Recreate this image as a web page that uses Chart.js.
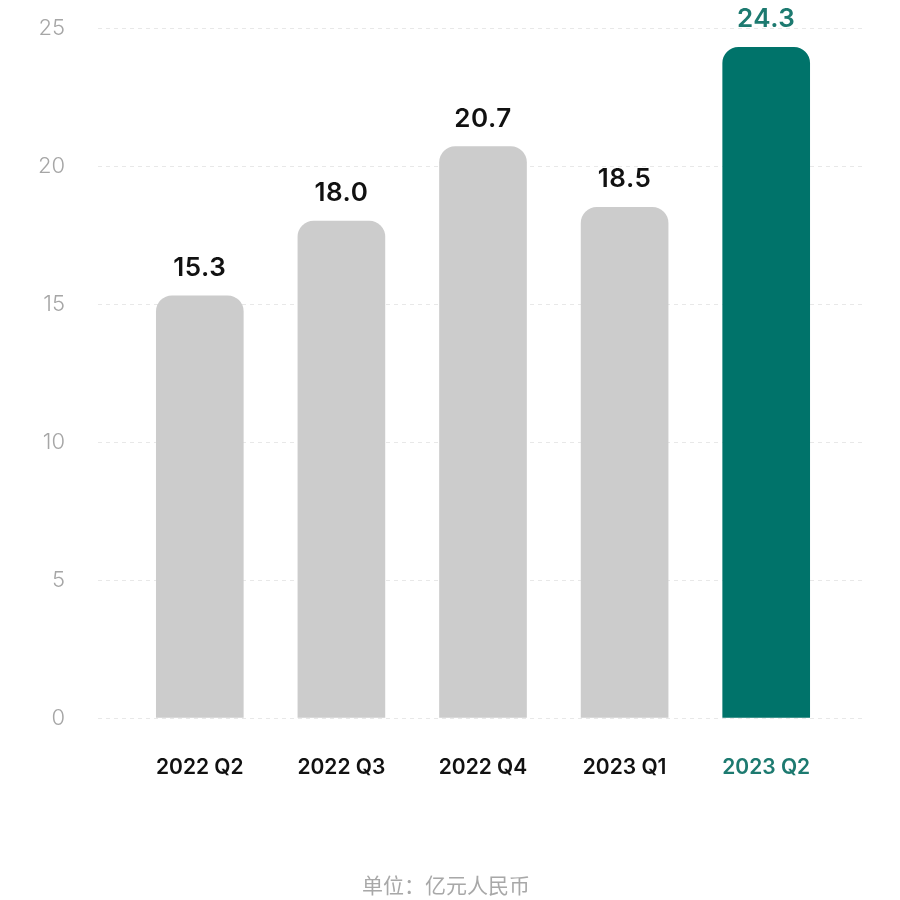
<!DOCTYPE html>
<html>
<head>
<meta charset="utf-8">
<script src="https://cdn.jsdelivr.net/npm/chart.js@4"></script>
<style>
html,body{margin:0;padding:0;background:#fff;}
#wrap{width:900px;height:900px;}
</style>
</head>
<body>
<div id="wrap"><canvas id="c" width="900" height="900"></canvas></div>
<script>
const categories = ["2022 Q2", "2022 Q3", "2022 Q4", "2023 Q1", "2023 Q2"];
const revenue = [15.3, 18.0, 20.7, 18.5, 24.3];
const yTicks = [0, 5, 10, 15, 20, 25];
const unitCaption = "单位：亿元人民币";

const GRAY = "#cccccc";
const TEAL = "#00736a";
const TEAL_TEXT = "#1d7a70";
const barColors = categories.map((c, i) => i === categories.length - 1 ? TEAL : GRAY);
const labelColors = categories.map((c, i) => i === categories.length - 1 ? TEAL_TEXT : "#111111");

const gridPlugin = {
  id: "wideGrid",
  beforeDatasetsDraw(chart) {
    const ctx = chart.ctx, y = chart.scales.y, a = chart.chartArea;
    ctx.save();
    ctx.strokeStyle = "#e8e8e8";
    ctx.lineWidth = 1;
    ctx.setLineDash([4, 4]);
    yTicks.forEach(v => {
      const py = Math.round(y.getPixelForValue(v)) + 0.5;
      ctx.beginPath();
      ctx.moveTo(a.left - 31, py);
      ctx.lineTo(a.right + 25, py);
      ctx.stroke();
    });
    ctx.restore();
  }
};

const labelPlugin = {
  id: "valueLabels",
  afterDatasetsDraw(chart) {
    const ctx = chart.ctx;
    const meta = chart.getDatasetMeta(0);
    ctx.save();
    ctx.font = "600 26px Inter, 'Noto Sans', sans-serif";
    if ("letterSpacing" in ctx) ctx.letterSpacing = "0.5px";
    ctx.textAlign = "center";
    ctx.textBaseline = "alphabetic";
    meta.data.forEach((bar, i) => {
      ctx.fillStyle = labelColors[i];
      ctx.fillText(revenue[i].toFixed(1), bar.x, bar.y - 20);
    });
    ctx.restore();
  }
};

const captionPlugin = {
  id: "unitCaption",
  afterDraw(chart) {
    const ctx = chart.ctx;
    ctx.save();
    ctx.font = "21px 'Noto Sans CJK SC', sans-serif";
    ctx.fillStyle = "#a8a8a8";
    ctx.textAlign = "center";
    ctx.textBaseline = "middle";
    ctx.fillText(unitCaption, chart.width / 2 - 4, chart.height - 15);
    ctx.restore();
  }
};

new Chart(document.getElementById("c"), {
  type: "bar",
  data: {
    labels: categories,
    datasets: [{
      data: revenue,
      backgroundColor: barColors,
      borderRadius: {topLeft: 16, topRight: 16, bottomLeft: 0, bottomRight: 0},
      borderSkipped: false,
      barThickness: 87
    }]
  },
  options: {
    responsive: false,
    animation: false,
    devicePixelRatio: 1,
    layout: { padding: { top: 28, right: 63, bottom: 112, left: 0 } },
    plugins: {
      legend: { display: false },
      tooltip: { enabled: false },
      title: { display: false }
    },
    scales: {
      x: {
        grid: { display: false, drawTicks: false },
        border: { display: false },
        ticks: {
          padding: 37,
          color: labelColors,
          font: { family: "Inter, 'Noto Sans', sans-serif", size: 21, weight: 600 }
        },
        afterFit(s) { s.height = 70; }
      },
      y: {
        min: 0,
        max: 25,
        grid: { display: true, drawOnChartArea: false, drawTicks: true, tickLength: 62, color: "rgba(0,0,0,0)", tickColor: "rgba(0,0,0,0)" },
        border: { display: false },
        afterBuildTicks(s) { s.ticks = yTicks.map(v => ({ value: v })); },
        ticks: {
          padding: 2,
          color: "#a6a6a6",
          font: { family: "Inter, 'Noto Sans', sans-serif", size: 22, weight: 300 }
        },
        afterFit(s) { s.width = 129; }
      }
    }
  },
  plugins: [gridPlugin, labelPlugin, captionPlugin]
});
</script>
</body>
</html>
